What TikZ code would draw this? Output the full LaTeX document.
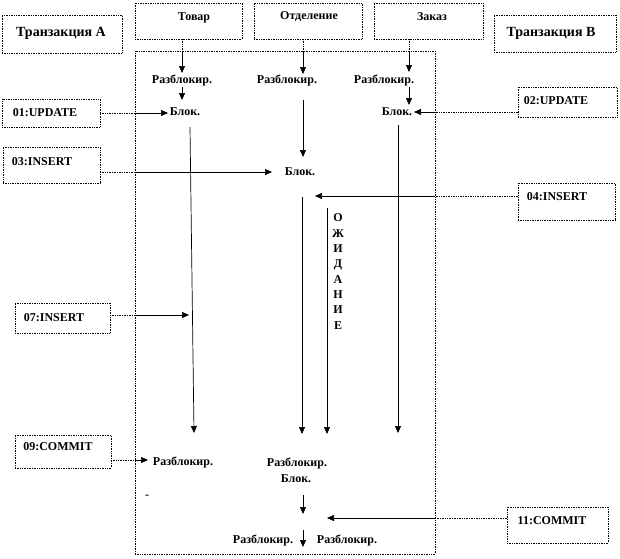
\documentclass[tikz,border=0pt]{standalone}
\usepackage{fontspec}
\setmainfont{Liberation Serif}
\usetikzlibrary{arrows.meta}
\begin{document}
\begin{tikzpicture}[x=1pt,y=-1pt,
  lbl/.style={font=\bfseries\fontsize{12}{14}\selectfont, inner sep=0pt},
  big/.style={font=\bfseries\fontsize{14}{16}\selectfont, inner sep=0pt},
  rbox/.style={draw, densely dotted, line width=0.7pt, inner sep=0pt, outer sep=0pt},
  arr/.style={-{Triangle[length=7pt,width=6pt]}, line width=0.7pt},
  dline/.style={densely dotted, line width=0.7pt},
  sline/.style={line width=0.7pt}]
\useasboundingbox (0,0) rectangle (620,558);

% boxes
\node[rbox, minimum width=120pt, minimum height=38pt] (tA)   at (62,34) {};
\node[rbox, minimum width=122pt, minimum height=37pt] (tB)   at (555,33.5) {};
\node[rbox, minimum width=107pt, minimum height=36pt] (tov)  at (188.5,21) {};
\node[rbox, minimum width=108pt, minimum height=36pt] (otd)  at (308,21) {};
\node[rbox, minimum width=109pt, minimum height=36pt] (zak)  at (428.5,21) {};
\node[rbox, minimum width=300pt, minimum height=503pt] (main) at (285,302.5) {};
\node[rbox, minimum width=98pt, minimum height=28pt]  (u1)   at (51,113) {};
\node[rbox, minimum width=99pt, minimum height=30pt]  (u2)   at (567.5,102) {};
\node[rbox, minimum width=97pt, minimum height=36pt]  (i3)   at (51.5,165) {};
\node[rbox, minimum width=97pt, minimum height=37pt]  (i4)   at (566.5,201.5) {};
\node[rbox, minimum width=95pt, minimum height=30pt]  (i7)   at (62.5,318) {};
\node[rbox, minimum width=96pt, minimum height=33pt]  (c9)   at (63,451.5) {};
\node[rbox, minimum width=101pt, minimum height=36pt] (c11)  at (557.5,525) {};

% box texts
\node[big] (tAt) at (61,33) {Транзакция А};
\node[big] (tBt) at (551,33) {Транзакция В};
\node[lbl] (tovt) at (194,18) {Товар};
\node[lbl] (otdt) at (309,17) {Отделение};
\node[lbl] (zakt) at (432,17) {Заказ};
\node[lbl] (u1t) at (45,113) {01:UPDATE};
\node[lbl] (u2t) at (556,101) {02:UPDATE};
\node[lbl] (i3t) at (42,162) {03:INSERT};
\node[lbl] (i4t) at (557,197) {04:INSERT};
\node[lbl] (i7t) at (54,318) {07:INSERT};
\node[lbl] (c9t) at (58,447) {09:COMMIT};
\node[lbl] (c11t) at (552,521) {11:COMMIT};

% inner labels
\node[lbl] (rA1) at (182,80) {Разблокир.};
\node[lbl] (bA)  at (185,112) {Блок.};
\node[lbl] (rM1) at (287,80) {Разблокир.};
\node[lbl] (rB1) at (384,80) {Разблокир.};
\node[lbl] (bB)  at (397,112) {Блок.};
\node[lbl] (bM)  at (300,172) {Блок.};
\node[lbl] (rA2) at (183,462) {Разблокир.};
\node[lbl] (rM2) at (297,463) {Разблокир.};
\node[lbl] (bM2) at (296,479) {Блок.};
\node[lbl] (rL3) at (263,540) {Разблокир.};
\node[lbl] (rR3) at (347,540) {Разблокир.};
\node[lbl] (dsh) at (147,497) {-};
\node[font=\bfseries\fontsize{12}{15.3}\selectfont, align=center, inner sep=0pt] (wait) at (338,271.5)
  {О\\Ж\\И\\Д\\А\\Н\\И\\Е};

% coordinates
\coordinate (tovB) at (182,51);  \coordinate (tovE) at (182,73);
\coordinate (aA1) at (182,87);   \coordinate (aA2) at (182,100);
\coordinate (p1) at (135,113);   \coordinate (q1) at (168,113);
\coordinate (otdB) at (303,51);  \coordinate (otdE) at (303,74);
\coordinate (m1) at (303,100);   \coordinate (m2) at (303,157);
\coordinate (p3) at (135,172);   \coordinate (q3) at (272,172);
\coordinate (p4) at (435,196);   \coordinate (q4) at (315,196);
\coordinate (zakB) at (409,51);  \coordinate (zakE) at (409,72);
\coordinate (b1) at (409,87);    \coordinate (b2) at (409,105);
\coordinate (p2) at (435,112);   \coordinate (q2) at (414,112);
\coordinate (v1) at (190,127);   \coordinate (v2) at (194,433);
\coordinate (p7) at (135,315);   \coordinate (q7) at (189,315);
\coordinate (w1) at (302,197);   \coordinate (w2) at (302,434);
\coordinate (z1) at (327,208);   \coordinate (z2) at (327,434);
\coordinate (y1) at (398,125);   \coordinate (y2) at (398,433);
\coordinate (p9) at (135,460);   \coordinate (q9) at (148,460);
\coordinate (k1) at (303,495);   \coordinate (k2) at (303,514);
\coordinate (k3) at (303,530);   \coordinate (k4) at (303,547);
\coordinate (p11) at (435,518);  \coordinate (q11) at (327,518);

% connectors
\draw[dline] (tov.south -| tovB) -- (tovB);  \draw[arr] (tovB) -- (tovE);
\draw[arr] (aA1) -- (aA2);
\draw[dline] (u1.east) -- (p1);  \draw[arr] (p1) -- (q1);
\draw[dline] (otd.south -| otdB) -- (otdB);  \draw[arr] (otdB) -- (otdE);
\draw[arr] (m1) -- (m2);
\draw[dline] (i3.east |- p3) -- (p3);  \draw[arr] (p3) -- (q3);
\draw[dline] (i4.west |- p4) -- (p4);  \draw[arr] (p4) -- (q4);
\draw[dline] (zak.south -| zakB) -- (zakB);  \draw[arr] (zakB) -- (zakE);
\draw[arr] (b1) -- (b2);
\draw[dline] (u2.west |- p2) -- (p2);  \draw[arr] (p2) -- (q2);
\draw[arr] (v1) -- (v2);
\draw[dline] (i7.east |- p7) -- (p7);  \draw[arr] (p7) -- (q7);
\draw[arr] (w1) -- (w2);
\draw[arr] (z1) -- (z2);
\draw[arr] (y1) -- (y2);
\draw[dline] (c9.east |- p9) -- (p9);  \draw[arr] (p9) -- (q9);
\draw[arr] (k1) -- (k2);
\draw[arr] (k3) -- (k4);
\draw[dline] (c11.west |- p11) -- (p11);  \draw[arr] (p11) -- (q11);
\end{tikzpicture}
\end{document}
